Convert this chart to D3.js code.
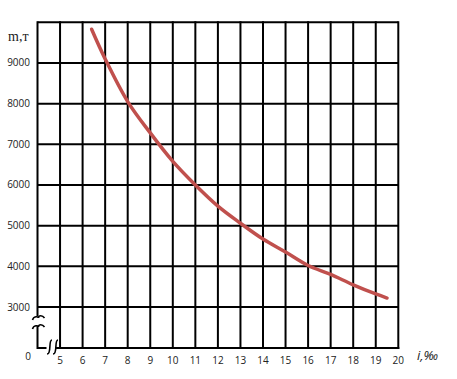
<!DOCTYPE html>
<html>
<head>
<meta charset="utf-8">
<script src="https://cdn.jsdelivr.net/npm/d3@7"></script>
<style>
  body { margin: 0; background: #fff; }
  svg { display: block; }
</style>
</head>
<body>
<div id="chart"></div>
<script>
// крива m(i)
const slopeVals = [6.4, 7, 8, 9, 10, 11, 12, 13, 14, 15, 16, 17, 18, 19, 19.5]
const massVals = [9830, 9100, 8050, 7280, 6580, 6000, 5480, 5060, 4670, 4350, 4020, 3800, 3545, 3320, 3220]
const xTicks = [5, 6, 7, 8, 9, 10, 11, 12, 13, 14, 15, 16, 17, 18, 19, 20]
const yTicks = [3000, 4000, 5000, 6000, 7000, 8000, 9000]
const yGrid = [3000, 4000, 5000, 6000, 7000, 8000, 9000, 10000]

const W = 457, H = 379
const bottomY = 348

const x = d3.scaleLinear().domain([4, 20]).range([37.5, 398.3])
const y = d3.scaleLinear().domain([3000, 10000]).range([307, 22.3])

const svg = d3.select("#chart").append("svg")
  .attr("width", W)
  .attr("height", H)

// горизонтальна сітка
svg.append("g").selectAll("line")
  .data(yGrid)
  .join("line")
    .attr("x1", x(4)).attr("x2", x(20))
    .attr("y1", d => y(d)).attr("y2", d => y(d))
    .attr("stroke", "#000").attr("stroke-width", 2)

// вертикальна сітка
svg.append("g").selectAll("line")
  .data(xTicks)
  .join("line")
    .attr("x1", d => x(d)).attr("x2", d => x(d))
    .attr("y1", y(10000) - 1).attr("y2", bottomY + 1)
    .attr("stroke", "#000").attr("stroke-width", 2)

// вісь y з розривом
const ax = x(4)
svg.append("line")
  .attr("x1", ax).attr("x2", ax)
  .attr("y1", y(10000) - 1).attr("y2", 316)
  .attr("stroke", "#000").attr("stroke-width", 2)
svg.append("path")
  .attr("d", `M${ax},326 L${ax},${bottomY} L${ax + 9},${bottomY}`)
  .attr("fill", "none").attr("stroke", "#000").attr("stroke-width", 2)
// низ від 5
svg.append("line")
  .attr("x1", x(5) - 4).attr("x2", x(20) + 1)
  .attr("y1", bottomY).attr("y2", bottomY)
  .attr("stroke", "#000").attr("stroke-width", 2)

// знаки розриву
const wave = yy => `M${ax - 5},${yy + 3} C${ax - 4},${yy - 1} ${ax + 1},${yy - 1} ${ax + 1},${yy + 1} C${ax + 1},${yy - 2} ${ax + 5},${yy - 2} ${ax + 7},${yy + 1}`
svg.append("path").attr("d", wave(317))
  .attr("fill", "none").attr("stroke", "#000").attr("stroke-width", 1.6)
svg.append("path").attr("d", wave(326))
  .attr("fill", "none").attr("stroke", "#000").attr("stroke-width", 1.6)
const hook = xx => `M${xx + 3},340 C${xx - 1},340 ${xx + 3},354 ${xx - 2},354`
svg.append("path").attr("d", hook(49))
  .attr("fill", "none").attr("stroke", "#000").attr("stroke-width", 1.6)
svg.append("path").attr("d", hook(55))
  .attr("fill", "none").attr("stroke", "#000").attr("stroke-width", 1.6)

// підписи
const labelFont = "'Open Sans', sans-serif"
svg.append("g").selectAll("text")
  .data(yTicks)
  .join("text")
    .attr("x", 30)
    .attr("y", d => y(d))
    .attr("dy", "0.35em")
    .attr("text-anchor", "end")
    .attr("font-family", labelFont)
    .attr("font-size", 10)
    .attr("fill", "#222")
    .text(d => d)

svg.append("g").selectAll("text")
  .data(xTicks)
  .join("text")
    .attr("x", d => x(d))
    .attr("y", 364)
    .attr("text-anchor", "middle")
    .attr("font-family", labelFont)
    .attr("font-size", 10)
    .attr("fill", "#222")
    .text(d => d)

svg.append("text")
  .attr("x", 28).attr("y", 360)
  .attr("text-anchor", "middle")
  .attr("font-family", labelFont)
  .attr("font-size", 10)
  .attr("fill", "#222")
  .text("0")

svg.append("text")
  .attr("x", 8).attr("y", 41)
  .attr("font-family", "'Liberation Serif', serif")
  .attr("font-size", 14)
  .attr("fill", "#222")
  .text("m,т")

svg.append("text")
  .attr("x", 417).attr("y", 360)
  .attr("font-family", labelFont)
  .attr("font-style", "italic")
  .attr("font-size", 13)
  .attr("fill", "#222")
  .text("i,‰")

// крива
const line = d3.line()
  .x((d, i) => x(slopeVals[i]))
  .y(d => y(d))
  .curve(d3.curveCatmullRom)

svg.append("path")
  .datum(massVals)
  .attr("fill", "none")
  .attr("stroke", "#c0504d")
  .attr("stroke-width", 3.5)
  .attr("stroke-linecap", "round")
  .attr("d", line)
</script>
</body>
</html>
